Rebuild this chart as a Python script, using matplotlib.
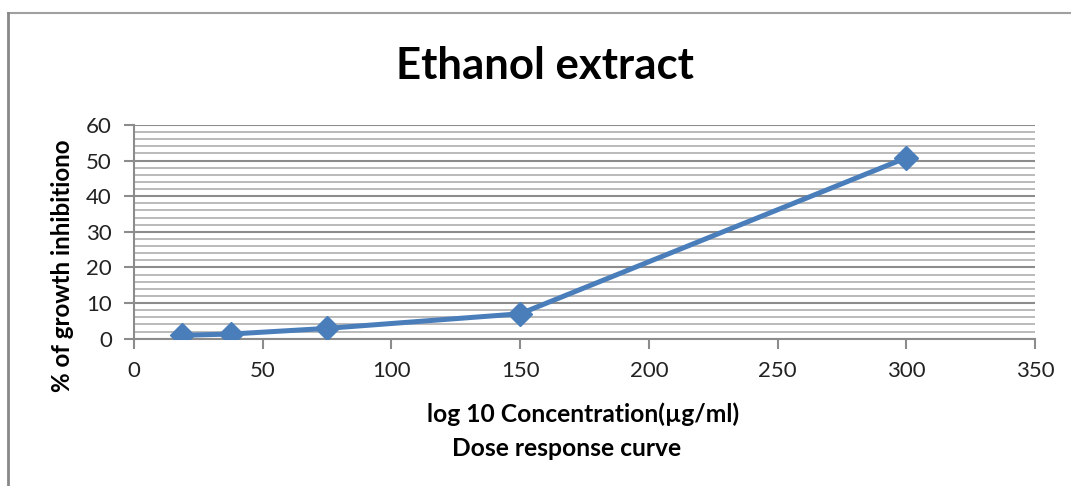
import numpy as np
import matplotlib
matplotlib.use("Agg")
import matplotlib.pyplot as plt
from matplotlib.lines import Line2D
from matplotlib.ticker import MultipleLocator

# data
concentration = [18.75, 37.5, 75, 150, 300]
inhibition = [0.95, 1.3, 2.9, 7.0, 50.8]

x_ticks = [0, 50, 100, 150, 200, 250, 300, 350]
y_ticks = [0, 10, 20, 30, 40, 50, 60]

plt.rcParams['font.family'] = ['Lato', 'DejaVu Sans']

W, H = 1071, 486
fig = plt.figure(figsize=(W / 100, H / 100), dpi=100)
ax = fig.add_axes([134 / W, 1 - 338.7 / H, (1035 - 134) / W, (338.7 - 125) / H])

# outer chart frame (only top and left visible)
fig.add_artist(Line2D([8 / W, 1.0], [1 - 13 / H, 1 - 13 / H],
                      transform=fig.transFigure, color='#a0a0a0', lw=1.5))
fig.add_artist(Line2D([8 / W, 8 / W], [0, 1 - 13 / H],
                      transform=fig.transFigure, color='#888888', lw=2))

ax.plot(concentration, inhibition, color='#4a7ebb', lw=3.6,
        marker='D', markersize=12, markeredgecolor='#4a7ebb', zorder=3)

ax.set_xlim(0, 350)
ax.set_ylim(0, 60)
ax.set_xticks(x_ticks)
ax.set_yticks(y_ticks)
ax.yaxis.set_minor_locator(MultipleLocator(2))

ax.grid(which='major', axis='y', color='#8c8c8c', lw=1.5)
ax.grid(which='minor', axis='y', color='#b4b4b4', lw=1.3)
ax.set_axisbelow(True)

for side in ['top', 'right']:
    ax.spines[side].set_visible(False)
for side in ['left', 'bottom']:
    ax.spines[side].set_color('#8c8c8c')
    ax.spines[side].set_linewidth(1.5)

ax.tick_params(axis='both', which='major', direction='out', length=7,
               width=1.5, color='#8c8c8c', labelsize=16, labelcolor='#222222')
ax.tick_params(axis='y', which='minor', length=0)
ax.tick_params(axis='y', pad=9)
ax.tick_params(axis='x', pad=9)

# title and axis titles
fig.text(545 / W, 1 - 79 / H, 'Ethanol extract', fontsize=31.5,
         fontweight='bold', ha='center', va='baseline')
fig.text(62 / W, 1 - 265.5 / H, '% of growth inhibitiono', fontsize=17.4,
         fontweight='bold', rotation=90, ha='center', va='center')
fig.text(583.5 / W, 1 - 422 / H, 'log 10 Concentration(µg/ml)', fontsize=17.7,
         fontweight='bold', ha='center', va='baseline')
fig.text(567 / W, 1 - 456 / H, 'Dose response curve', fontsize=17.7,
         fontweight='bold', ha='center', va='baseline')

fig.savefig('out.png', dpi=100)
